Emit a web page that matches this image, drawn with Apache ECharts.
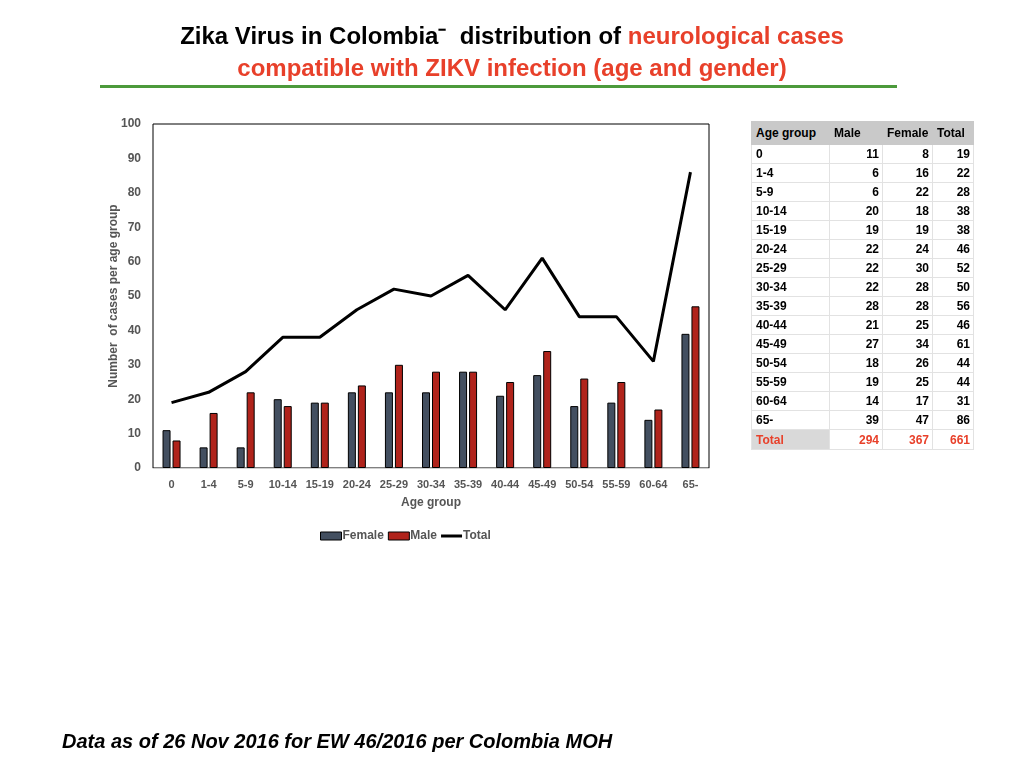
<!DOCTYPE html>
<html>
<head>
<meta charset="utf-8">
<script src="https://cdn.jsdelivr.net/npm/echarts@6/dist/echarts.min.js"></script>
<style>
  body { margin: 0; background: #fff; }
  #chart { position: absolute; left: 0; top: 0; width: 1024px; height: 768px; }
  #tbl { position: absolute; left: 751px; top: 121px; border-collapse: collapse; table-layout: fixed; width: 222px;
    font-family: "Liberation Sans", Arial, sans-serif; font-size: 12px; font-weight: bold; color: #000; }
  #tbl td, #tbl th { border: 1px solid #e2e2e2; padding: 0 3px 0 4px; height: 18px; white-space: nowrap; overflow: hidden; }
  #tbl th { background: #c9c9c9; height: 22px; text-align: left; font-weight: bold; border-color: #c9c9c9; }
  #tbl td.num { text-align: right; }
  #tbl tr.tot td { color: #e8402a; height: 19px; }
  #tbl tr.tot td.lab { background: #d9d9d9; }
</style>
</head>
<body>
<div id="chart"></div>
<table id="tbl"></table>
<script>
// age groups on the x axis
const ageGroups = ['0', '1-4', '5-9', '10-14', '15-19', '20-24', '25-29', '30-34',
  '35-39', '40-44', '45-49', '50-54', '55-59', '60-64', '65-'];

// table columns (as printed in the table)
const maleCol   = [11, 6, 6, 20, 19, 22, 22, 22, 28, 21, 27, 18, 19, 14, 39];
const femaleCol = [8, 16, 22, 18, 19, 24, 30, 28, 28, 25, 34, 26, 25, 17, 47];
const totalCol  = [19, 22, 28, 38, 38, 46, 52, 50, 56, 46, 61, 44, 44, 31, 86];
const tableTotals = [294, 367, 661];

// chart series (legend names as in the picture)
const darkBars = maleCol;   // labelled "Female" in the chart legend
const redBars = femaleCol;  // labelled "Male" in the chart legend
const totalLine = totalCol;

const yTicks = { min: 0, max: 100, interval: 10 };

const red = '#e8402a';
const axisGrey = '#555';

// build the table
let html = '<colgroup><col style="width:78px"><col style="width:53px"><col style="width:50px"><col style="width:41px"></colgroup>' +
  '<tr><th>Age group</th><th>Male</th><th>Female</th><th>Total</th></tr>';
ageGroups.forEach(function (g, i) {
  html += '<tr><td>' + g + '</td><td class="num">' + maleCol[i] + '</td><td class="num">' +
    femaleCol[i] + '</td><td class="num">' + totalCol[i] + '</td></tr>';
});
html += '<tr class="tot"><td class="lab">Total</td><td class="num">' + tableTotals[0] +
  '</td><td class="num">' + tableTotals[1] + '</td><td class="num">' + tableTotals[2] + '</td></tr>';
document.getElementById('tbl').innerHTML = html;

const chart = echarts.init(document.getElementById('chart'));
const font = '"Liberation Sans", Arial, Helvetica, sans-serif';

chart.setOption({
  animation: false,
  textStyle: { fontFamily: font },
  title: {
    left: 'center',
    top: 16,
    text: '{b|Zika Virus in Colombia⁻  distribution of }{r|neurological cases}\n{r|compatible with ZIKV infection (age and gender)}',
    textStyle: {
      rich: {
        b: { fontSize: 24, fontWeight: 'bold', color: '#000', fontFamily: font, lineHeight: 32 },
        r: { fontSize: 24, fontWeight: 'bold', color: red, fontFamily: font, lineHeight: 32 }
      }
    }
  },
  graphic: [
    {
      type: 'rect',
      shape: { x: 100, y: 85, width: 797, height: 3 },
      style: { fill: '#4c9a3b' }
    },
    {
      type: 'text',
      left: 62,
      top: 732,
      style: {
        text: 'Data as of 26 Nov 2016 for EW 46/2016 per Colombia MOH',
        font: 'italic bold 20px ' + font,
        fill: '#000'
      }
    }
  ],
  legend: {
    top: 525,
    left: 315,
    itemWidth: 21,
    itemHeight: 8,
    itemGap: 4,
    textStyle: { color: axisGrey, fontWeight: 'bold', fontSize: 12, padding: [0, 0, 0, -4] },
    data: [
      { name: 'Female', icon: 'rect', itemStyle: { borderColor: '#000', borderWidth: 1 } },
      { name: 'Male', icon: 'rect', itemStyle: { borderColor: '#000', borderWidth: 1 } },
      { name: 'Total', icon: 'path://M0,0H21V3H0Z', itemStyle: { color: '#000' } }
    ]
  },
  grid: {
    left: 153, right: 315, top: 124, bottom: 300,
    show: true, borderColor: '#000', borderWidth: 1
  },
  xAxis: {
    type: 'category',
    data: ageGroups,
    name: 'Age group',
    nameLocation: 'middle',
    nameGap: 29,
    nameTextStyle: { color: axisGrey, fontWeight: 'bold', fontSize: 12 },
    axisLine: { lineStyle: { color: '#d0d0d0', width: 1 } },
    axisTick: { show: false },
    axisLabel: { color: axisGrey, fontWeight: 'bold', fontSize: 11, margin: 11, interval: 0 }
  },
  yAxis: {
    type: 'value',
    min: yTicks.min,
    max: yTicks.max,
    interval: yTicks.interval,
    name: 'Number  of cases per age group',
    nameLocation: 'middle',
    nameGap: 33,
    nameMoveOverlap: false,
    nameTextStyle: { color: axisGrey, fontWeight: 'bold', fontSize: 12 },
    axisLine: { show: false },
    axisTick: { show: false },
    splitLine: { show: false },
    axisLabel: { color: axisGrey, fontWeight: 'bold', fontSize: 12, margin: 12 }
  },
  series: [
    {
      name: 'Female',
      type: 'bar',
      data: darkBars,
      barWidth: 8,
      barGap: '25%',
      itemStyle: { color: '#434f60', borderColor: '#000', borderWidth: 1 }
    },
    {
      name: 'Male',
      type: 'bar',
      data: redBars,
      barWidth: 8,
      itemStyle: { color: '#b0231b', borderColor: '#000', borderWidth: 1 }
    },
    {
      name: 'Total',
      type: 'line',
      data: totalLine,
      showSymbol: false,
      symbol: 'none',
      z: 5,
      lineStyle: { color: '#000', width: 3 },
      itemStyle: { color: '#000' }
    }
  ]
});
</script>
</body>
</html>
